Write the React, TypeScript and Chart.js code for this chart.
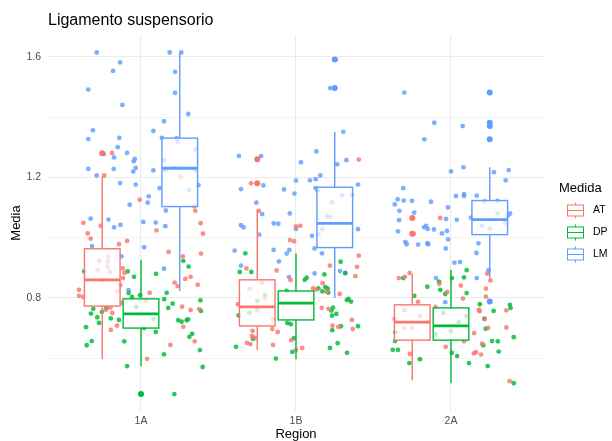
import React, { useEffect, useRef } from 'react';
import { Chart, registerables } from 'chart.js';

Chart.register(...registerables);

const FONT = 'Liberation Sans, Arial, Helvetica, sans-serif';

const regions = ['1A', '1B', '2A'];
const medidas = ['AT', 'DP', 'LM'];
const colors = ['#F8766D', '#00BA38', '#619CFF'];
const pointColors = ['rgba(248,118,109,0.82)', 'rgba(0,186,56,0.82)', 'rgba(97,156,255,0.82)'];
const yTicks = [0.6, 0.8, 1.0, 1.2, 1.4, 1.6];
const yLabelled = [0.8, 1.2, 1.6];
const dodge = [-0.25, 0, 0.25];

// box statistics per region: [lower whisker, Q1, median, Q3, upper whisker]
const boxAT = [[0.597, 0.773, 0.86, 0.963, 1.203], [0.627, 0.707, 0.77, 0.86, 1.09], [0.527, 0.66, 0.72, 0.777, 0.88]];
const boxDP = [[0.573, 0.70, 0.747, 0.797, 0.927], [0.597, 0.727, 0.783, 0.823, 0.947], [0.517, 0.66, 0.707, 0.767, 0.893]];
const boxLM = [[0.823, 1.103, 1.23, 1.33, 1.613], [0.80, 0.967, 1.047, 1.167, 1.35], [0.867, 1.01, 1.06, 1.123, 1.233]];

// outliers per region
const outAT = [[1.28], [1.26, 1.18], [1.065, 1.013]];
const outDP = [[0.481], [], []];
const outLM = [[], [1.591, 1.496], [1.481, 1.381, 1.37, 1.326, 0.788]];

// jittered observations: [horizontal jitter, Media]
const at1A = [[-0.187,1.281],[-0.237,1.206],[-0.008,1.126],[0.256,1.201],[0.344,1.104],[0.35,1.089],[-0.372,1.049],[-0.26,1.039],[-0.344,1.014],[-0.325,0.997],[0.1,1.024],[0.385,1.048],[0.4,1.013],[-0.142,0.978],[-0.09,0.989],[0.178,0.953],[0.387,0.947],[0.27,0.938],[-0.21,0.937],[-0.215,0.903],[-0.2,0.887],[-0.28,0.892],[-0.118,0.898],[-0.107,0.883],[-0.116,0.866],[-0.135,0.842],[-0.15,0.822],[-0.4,0.827],[-0.4,0.807],[-0.372,0.803],[-0.125,0.784],[-0.198,0.768],[-0.185,0.75],[-0.226,0.761],[-0.155,0.708],[-0.195,0.694],[0.237,0.839],[0.217,0.851],[0.286,0.863],[0.32,0.87],[0.366,0.844],[0.265,0.771],[0.32,0.76],[0.375,0.763],[0.273,0.704],[0.346,0.656],[0.19,0.644],[0.056,0.817],[0.03,0.79],[0.039,0.598],[-0.27,0.923],[-0.25,0.86]];
const dp1A = [[-0.366,0.888],[-0.086,0.888],[-0.045,0.87],[0.097,0.88],[0.273,0.923],[0.307,0.904],[-0.08,0.816],[-0.058,0.803],[-0.006,0.809],[0.166,0.817],[0.15,0.796],[0.204,0.781],[0.176,0.767],[0.383,0.792],[0.387,0.757],[-0.308,0.764],[-0.323,0.748],[-0.282,0.736],[-0.252,0.754],[-0.224,0.766],[-0.195,0.732],[-0.142,0.727],[-0.271,0.717],[-0.355,0.703],[-0.318,0.657],[-0.35,0.643],[-0.108,0.656],[-0.09,0.574],[0.095,0.687],[0.24,0.726],[0.262,0.721],[0.295,0.726],[0.303,0.729],[0.33,0.681],[0.312,0.671],[0.148,0.613],[0.38,0.627],[0.398,0.571],[0.215,0.481],[0.02,0.7],[0.08,0.73],[-0.03,0.77]];
const lm1A = [[-0.286,1.614],[0.185,1.614],[0.26,1.614],[-0.135,1.581],[-0.18,1.553],[0.22,1.55],[-0.34,1.491],[0.22,1.48],[-0.12,1.44],[0.305,1.41],[0.148,1.386],[-0.31,1.356],[0.08,1.354],[-0.34,1.327],[-0.14,1.331],[0.135,1.331],[0.23,1.329],[0.237,1.318],[-0.15,1.30],[-0.09,1.281],[-0.24,1.277],[-0.174,1.266],[-0.04,1.261],[-0.047,1.253],[-0.34,1.228],[-0.176,1.228],[-0.034,1.231],[-0.05,1.219],[0.08,1.223],[-0.286,1.206],[0.15,1.256],[0.215,1.232],[0.353,1.293],[0.353,1.223],[0.157,1.223],[-0.135,1.181],[-0.034,1.176],[0.37,1.174],[0.31,1.158],[0.12,1.164],[0.05,1.137],[0.043,1.116],[-0.073,1.109],[0.16,1.09],[-0.325,1.063],[-0.21,1.06],[-0.174,1.034],[-0.133,1.042],[0.015,1.052],[0.095,1.05],[0.157,1.038],[-0.316,0.972],[0.02,0.968],[-0.127,0.938],[-0.215,0.921],[0.148,0.897],[-0.08,0.826]];
const at1B = [[-0.29,1.18],[0.405,1.259],[-0.24,1.089],[0.0,1.037],[0.028,1.039],[-0.039,0.992],[-0.013,0.988],[0.405,0.94],[0.219,0.907],[0.394,0.903],[0.383,0.872],[-0.32,0.898],[-0.125,0.891],[-0.035,0.859],[0.172,0.849],[0.11,0.832],[0.13,0.828],[0.195,0.821],[0.282,0.813],[-0.374,0.779],[0.166,0.767],[0.21,0.764],[0.36,0.727],[0.235,0.708],[0.273,0.704],[0.366,0.697],[-0.153,0.697],[-0.118,0.687],[-0.28,0.691],[-0.285,0.674],[-0.265,0.668],[-0.316,0.651],[-0.294,0.647],[-0.148,0.644],[-0.03,0.66],[0.0,0.628],[0.04,0.634],[-0.3,0.83],[-0.2,0.80],[-0.25,0.76],[-0.15,0.73],[-0.22,0.85]];
const dp1B = [[-0.327,0.948],[-0.363,0.886],[-0.288,0.886],[-0.37,0.742],[-0.06,0.823],[0.056,0.86],[0.069,0.867],[0.183,0.878],[0.144,0.832],[0.17,0.822],[0.189,0.836],[0.204,0.831],[0.208,0.818],[0.288,0.92],[0.318,0.882],[0.328,0.793],[0.339,0.797],[0.355,0.788],[0.239,0.768],[0.228,0.758],[0.26,0.747],[0.232,0.741],[0.29,0.706],[0.4,0.706],[0.234,0.693],[-0.056,0.717],[-0.034,0.713],[-0.024,0.621],[-0.013,0.667],[-0.277,0.664],[-0.387,0.638],[-0.13,0.599],[0.219,0.634],[0.269,0.65],[0.329,0.618],[-0.25,0.79],[-0.3,0.75],[-0.2,0.81]];
const lm1B = [[0.255,1.591],[0.221,1.496],[0.305,1.351],[-0.368,1.271],[-0.226,1.27],[0.131,1.286],[0.032,1.25],[0.266,1.243],[0.325,1.257],[-0.355,1.161],[-0.211,1.173],[-0.077,1.16],[0.0,1.189],[-0.01,1.146],[0.09,1.19],[0.127,1.194],[0.157,1.206],[0.127,1.164],[0.14,1.156],[0.4,1.176],[-0.256,1.116],[-0.218,1.078],[-0.04,1.08],[0.297,1.141],[0.36,1.141],[0.232,1.117],[0.2,1.071],[0.221,1.068],[-0.355,1.041],[-0.338,1.034],[-0.237,1.01],[-0.144,1.047],[-0.114,1.046],[0.0,1.029],[0.103,1.006],[0.144,1.011],[0.4,1.028],[-0.396,0.957],[-0.144,0.959],[-0.06,0.947],[-0.043,0.959],[-0.11,0.921],[-0.355,0.907],[0.12,0.964],[0.168,0.948],[0.12,0.881],[0.284,0.889],[0.318,0.883],[-0.045,0.869],[0.17,1.028]];
const at2A = [[-0.07,1.065],[-0.24,1.013],[-0.337,0.866],[-0.297,0.87],[-0.267,0.883],[-0.075,0.847],[0.063,0.841],[-0.025,0.82],[0.077,0.798],[-0.213,0.787],[0.234,0.881],[0.254,0.858],[0.225,0.831],[0.225,0.804],[0.18,0.76],[0.185,0.756],[0.357,0.759],[0.217,0.73],[0.24,0.701],[0.357,0.702],[0.149,0.683],[0.2,0.648],[0.147,0.616],[0.161,0.62],[0.194,0.612],[-0.034,0.638],[-0.363,0.73],[-0.265,0.614],[0.378,0.524],[0.084,0.656],[-0.3,0.76],[-0.2,0.74],[-0.25,0.70],[-0.15,0.72],[-0.3,0.70],[-0.1,0.77]];
const dp2A = [[-0.308,0.866],[-0.153,0.837],[-0.077,0.854],[-0.069,0.827],[-0.037,0.813],[0.006,0.866],[0.084,0.868],[0.101,0.892],[0.101,0.816],[-0.237,0.807],[0.186,0.779],[0.275,0.757],[0.215,0.731],[0.224,0.698],[0.38,0.777],[0.384,0.767],[0.405,0.67],[0.265,0.657],[0.302,0.656],[0.308,0.622],[0.208,0.643],[-0.359,0.686],[-0.361,0.657],[-0.376,0.628],[-0.342,0.628],[-0.201,0.597],[-0.269,0.584],[0.116,0.584],[0.237,0.574],[0.005,0.618],[0.039,0.607],[0.405,0.517],[-0.05,0.75],[0.05,0.72],[0.0,0.69],[-0.1,0.68],[0.1,0.74]];
const lm2A = [[-0.301,1.481],[-0.108,1.381],[0.075,1.37],[-0.172,1.326],[0.0,1.22],[0.08,1.233],[0.277,1.217],[0.372,1.224],[0.353,1.19],[-0.308,1.164],[0.032,1.138],[0.084,1.144],[0.084,1.138],[0.166,1.139],[-0.344,1.127],[-0.305,1.123],[-0.252,1.122],[-0.129,1.119],[-0.363,1.11],[-0.02,1.1],[-0.333,1.089],[-0.237,1.083],[0.13,1.066],[0.381,1.08],[0.366,1.072],[-0.335,1.058],[-0.161,1.039],[-0.174,1.034],[-0.15,1.029],[-0.11,1.027],[-0.032,1.062],[0.037,1.059],[-0.342,1.021],[-0.058,1.014],[-0.026,1.022],[-0.019,0.994],[-0.295,0.986],[-0.286,0.978],[-0.212,0.977],[-0.153,0.982],[-0.147,0.978],[-0.034,0.964],[0.177,0.981],[0.164,0.949],[0.022,0.917],[0.058,0.919],[0.243,0.892],[-0.097,0.866],[0.166,0.866],[-0.037,0.786],[0.217,1.12],[0.3,1.122],[0.2,1.04],[0.25,1.03],[0.3,1.08],[0.35,1.05]];

const jitterAT = [at1A, at1B, at2A];
const jitterDP = [dp1A, dp1B, dp2A];
const jitterLM = [lm1A, lm1B, lm2A];

const BOX_WIDTH = 0.23;

function toXY(groups: number[][][]) {
  const out: { x: number; y: number }[] = [];
  groups.forEach((pts, i) => pts.forEach(([dx, v]) => out.push({ x: i + 1 + dx, y: v })));
  return out;
}

const boxPlugin = {
  id: 'ggbox',
  afterDatasetsDraw(chart: any) {
    const { ctx, scales } = chart;
    const x = scales.x;
    const y = scales.y;
    const half = x.getPixelForValue(1 + BOX_WIDTH / 2) - x.getPixelForValue(1);
    ctx.save();
    [boxAT, boxDP, boxLM].forEach((stats, m) => {
      stats.forEach((s, i) => {
        const cx = x.getPixelForValue(i + 1 + dodge[m]);
        const [lo, q1, med, q3, hi] = s.map((v) => y.getPixelForValue(v));
        ctx.strokeStyle = colors[m];
        ctx.lineWidth = 1.4;
        ctx.beginPath();
        ctx.moveTo(cx, q3);
        ctx.lineTo(cx, hi);
        ctx.moveTo(cx, q1);
        ctx.lineTo(cx, lo);
        ctx.stroke();
        ctx.fillStyle = 'rgba(255,255,255,0.72)';
        ctx.fillRect(cx - half, q3, 2 * half, q1 - q3);
        ctx.strokeRect(cx - half, q3, 2 * half, q1 - q3);
        ctx.lineWidth = 2.8;
        ctx.beginPath();
        ctx.moveTo(cx - half, med);
        ctx.lineTo(cx + half, med);
        ctx.stroke();
      });
    });
    [outAT, outDP, outLM].forEach((outs, m) => {
      outs.forEach((vals, i) => {
        const cx = x.getPixelForValue(i + 1 + dodge[m]);
        vals.forEach((v) => {
          ctx.fillStyle = colors[m];
          ctx.beginPath();
          ctx.arc(cx, y.getPixelForValue(v), 3, 0, Math.PI * 2);
          ctx.fill();
        });
      });
    });
    ctx.restore();
  },
  afterDraw(chart: any) {
    const { ctx, chartArea } = chart;
    ctx.save();
    ctx.fillStyle = '#000000';
    ctx.font = `16px ${FONT}`;
    ctx.textAlign = 'left';
    ctx.textBaseline = 'alphabetic';
    ctx.fillText('Ligamento suspensorio', chartArea.left, 25);

    ctx.font = `13px ${FONT}`;
    ctx.textAlign = 'center';
    ctx.fillText('Region', (chartArea.left + chartArea.right) / 2, 438);

    ctx.save();
    ctx.translate(16, (chartArea.top + chartArea.bottom) / 2);
    ctx.rotate(-Math.PI / 2);
    ctx.textBaseline = 'middle';
    ctx.fillText('Media', 0, 0);
    ctx.restore();

    // legend
    ctx.textAlign = 'left';
    ctx.font = `13px ${FONT}`;
    ctx.fillText('Medida', 559, 192);
    const keyX = 567;
    const keyW = 17;
    const centers = [210.5, 232.5, 254.5];
    medidas.forEach((name, m) => {
      const cy = centers[m];
      const cx = keyX + keyW / 2;
      ctx.strokeStyle = colors[m];
      ctx.lineWidth = 1;
      ctx.beginPath();
      ctx.moveTo(cx, cy - 8);
      ctx.lineTo(cx, cy - 5.5);
      ctx.moveTo(cx, cy + 5.5);
      ctx.lineTo(cx, cy + 8);
      ctx.stroke();
      ctx.fillStyle = 'rgba(255,255,255,0.72)';
      ctx.fillRect(keyX + 0.5, cy - 5.5, keyW - 1, 11);
      ctx.strokeRect(keyX + 0.5, cy - 5.5, keyW - 1, 11);
      ctx.beginPath();
      ctx.moveTo(keyX + 0.5, cy);
      ctx.lineTo(keyX + keyW - 0.5, cy);
      ctx.stroke();
      ctx.fillStyle = '#000000';
      ctx.font = `10.5px ${FONT}`;
      ctx.textBaseline = 'middle';
      ctx.fillText(name, 593, cy);
    });
    ctx.restore();
  },
};

export default function App() {
  const ref = useRef<HTMLCanvasElement | null>(null);

  useEffect(() => {
    if (!ref.current) return;
    const chart = new Chart(ref.current, {
      type: 'scatter',
      data: {
        datasets: [jitterAT, jitterDP, jitterLM].map((g, m) => ({
          label: medidas[m],
          data: toXY(g),
          pointRadius: 2.4,
          pointHoverRadius: 2.4,
          pointBorderWidth: 0,
          backgroundColor: pointColors[m],
          borderColor: pointColors[m],
        })),
      },
      options: {
        animation: false,
        responsive: false,
        devicePixelRatio: 1,
        layout: { padding: { top: 35, right: 68, left: 0, bottom: 0 } },
        plugins: {
          legend: { display: false },
          tooltip: { enabled: false },
          title: { display: false },
        },
        scales: {
          x: {
            type: 'linear',
            min: 0.4,
            max: 3.6,
            afterBuildTicks: (axis: any) => {
              axis.ticks = regions.map((_, i) => ({ value: i + 1 }));
            },
            afterFit: (axis: any) => {
              axis.height = 30;
            },
            ticks: {
              autoSkip: false,
              maxRotation: 0,
              padding: 4,
              color: '#4D4D4D',
              font: { family: FONT, size: 10.5 },
              callback: (v: any) => regions[Math.round(Number(v)) - 1] ?? '',
            },
            grid: { color: '#EBEBEB', lineWidth: 1.1, drawTicks: false },
            border: { display: false },
          },
          y: {
            type: 'linear',
            min: 0.425,
            max: 1.672,
            afterBuildTicks: (axis: any) => {
              axis.ticks = yTicks.map((v) => ({ value: v }));
            },
            afterFit: (axis: any) => {
              axis.width = 48;
            },
            ticks: {
              autoSkip: false,
              padding: 7,
              color: '#4D4D4D',
              font: { family: FONT, size: 10.5 },
              callback: (v: any) => (yLabelled.includes(Number(v)) ? Number(v).toFixed(1) : ''),
            },
            grid: {
              drawTicks: false,
              color: '#EBEBEB',
              lineWidth: (c: any) => (yLabelled.includes(c.tick?.value) ? 1.1 : 0.55),
            },
            border: { display: false },
          },
        },
      },
      plugins: [boxPlugin],
    });
    return () => chart.destroy();
  }, []);

  return (
    <div style={{ position: 'fixed', left: 0, top: 0, width: 612, height: 441, background: '#ffffff' }}>
      <canvas ref={ref} width={612} height={441} style={{ width: 612, height: 441, display: 'block' }} />
    </div>
  );
}
